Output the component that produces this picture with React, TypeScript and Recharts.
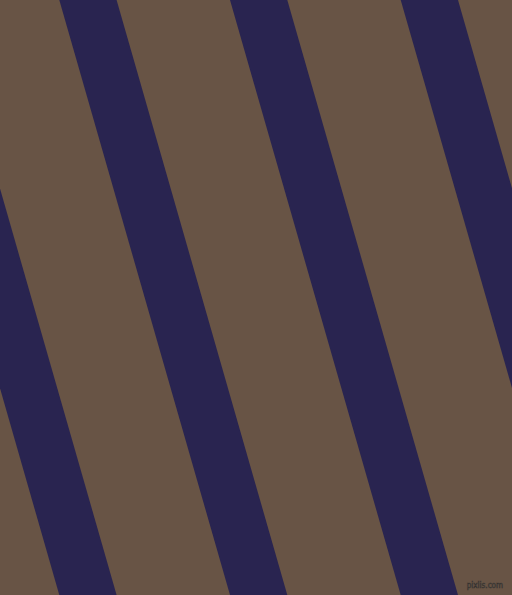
import React from "react";
import { ComposedChart, Area, XAxis, YAxis } from "recharts";

// edge positions of each stripe at the top (y=0) and bottom (y=595) of the image
const rowY = [0, 595];
const stripeLeft = [
  [-111.4, 59.3],
  [59.3, 230],
  [230, 400.7],
  [400.7, 571.4],
];
const stripeRight = [
  [-54.1, 116.6],
  [116.6, 287.3],
  [287.3, 458],
  [458, 628.7],
];

const data = rowY.map((y, i) => {
  const row: any = { y };
  stripeLeft.forEach((l, s) => {
    row["s" + s] = [l[i], stripeRight[s][i]];
  });
  return row;
});

export default function App() {
  return (
    <div
      style={{
        position: "fixed",
        top: 0,
        left: 0,
        width: 512,
        height: 595,
        overflow: "hidden",
        background: "#685445",
      }}
    >
      <ComposedChart
        width={512}
        height={595}
        data={data}
        layout="vertical"
        margin={{ top: 0, right: 0, bottom: 0, left: 0 }}
      >
        <XAxis type="number" domain={[0, 512]} allowDataOverflow hide />
        <YAxis type="number" dataKey="y" domain={[0, 595]} allowDataOverflow hide />
        {stripeLeft.map((_, s) => (
          <Area
            key={s}
            type="linear"
            dataKey={"s" + s}
            fill="#292450"
            fillOpacity={1}
            stroke="none"
            dot={false}
            activeDot={false}
            isAnimationActive={false}
          />
        ))}
      </ComposedChart>
      <span
        style={{
          position: "absolute",
          right: 9,
          bottom: 4,
          fontFamily: "DejaVu Sans Condensed, DejaVu Sans",
          fontSize: 8,
          lineHeight: "10px",
          color: "#66625f",
          WebkitTextStroke: "0.5px #35302c",
        }}
      >
        pixlis.com
      </span>
    </div>
  );
}
